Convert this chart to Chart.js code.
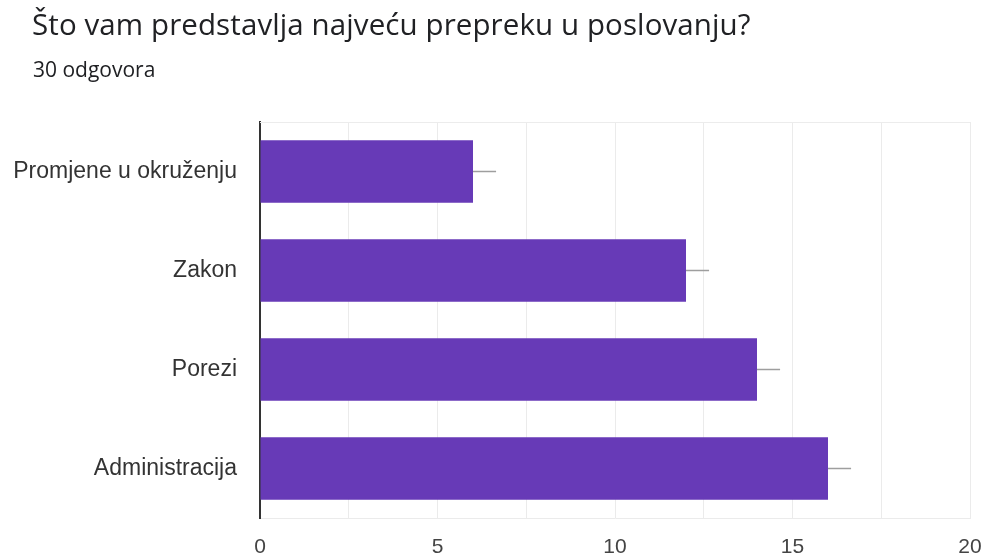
<!DOCTYPE html>
<html>
<head>
<meta charset="utf-8">
<script src="https://cdn.jsdelivr.net/npm/chart.js@4"></script>
<style>
  html, body { margin: 0; padding: 0; background: #fff; }
  #wrap { position: relative; width: 984px; height: 555px; }
  #title { position: absolute; left: 32px; top: 3px; font: 29.5px 'Open Sans', sans-serif; color: #202124; white-space: nowrap; letter-spacing: 0.1px; }
  #sub { position: absolute; left: 33px; top: 55px; font: 21px 'Open Sans', sans-serif; color: #202124; }
</style>
</head>
<body>
<div id="wrap">
  <div id="title">Što vam predstavlja najveću prepreku u poslovanju?</div>
  <div id="sub">30 odgovora</div>
  <canvas id="barChart" width="984" height="555"></canvas>
</div>
<script>
// chart data
const categories = ['Promjene u okruženju', 'Zakon', 'Porezi', 'Administracija'];
const counts = [6, 12, 14, 16];
const errors = [0.65, 0.65, 0.65, 0.65];
const tickLabels = [0, 5, 10, 15, 20];

// small grey whisker to the right of each bar
const whiskers = {
    id: 'whiskers',
    afterDatasetsDraw(chart) {
        const ctx = chart.ctx;
        const xs = chart.scales.x;
        const meta = chart.getDatasetMeta(0);
        ctx.save();
        ctx.strokeStyle = '#9e9e9e';
        ctx.lineWidth = 1.5;
        meta.data.forEach((bar, i) => {
            ctx.beginPath();
            ctx.moveTo(xs.getPixelForValue(counts[i]), bar.y);
            ctx.lineTo(xs.getPixelForValue(counts[i] + errors[i]), bar.y);
            ctx.stroke();
        });
        // light frame line on top of the plot
        const a = chart.chartArea;
        ctx.strokeStyle = '#ececec';
        ctx.lineWidth = 1;
        ctx.beginPath();
        ctx.moveTo(a.left, a.top + 0.5);
        ctx.lineTo(a.right, a.top + 0.5);
        ctx.stroke();
        ctx.restore();
    }
};

new Chart(document.getElementById('barChart').getContext('2d'), {
    type: 'bar',
    data: {
        labels: categories,
        datasets: [{
            data: counts,
            backgroundColor: '#673ab7',
            borderWidth: 0,
            categoryPercentage: 1,
            barPercentage: 0.63
        }]
    },
    options: {
        indexAxis: 'y',
        responsive: false,
        animation: false,
        layout: { padding: { top: 122, right: 0, left: 0, bottom: 0 } },
        plugins: { legend: { display: false }, tooltip: { enabled: false } },
        scales: {
            x: {
                min: 0, max: 20,
                ticks: {
                    stepSize: 2.5,
                    color: '#444',
                    padding: 17,
                    font: { family: "'Liberation Sans', Arial", size: 21 },
                    callback: v => tickLabels.includes(v) ? String(v) : ''
                },
                grid: { color: '#ebebeb', drawTicks: false },
                border: { color: '#ebebeb' },
                afterFit: s => { s.height = 37; s.paddingRight = 14; }
            },
            y: {
                ticks: { color: '#333', padding: 23, font: { family: "'Liberation Sans', Arial", size: 23 } },
                grid: { display: false, drawTicks: false },
                border: { color: '#333', width: 2 },
                afterFit: s => { s.width = 260; }
            }
        }
    },
    plugins: [whiskers]
});
</script>
</body>
</html>
